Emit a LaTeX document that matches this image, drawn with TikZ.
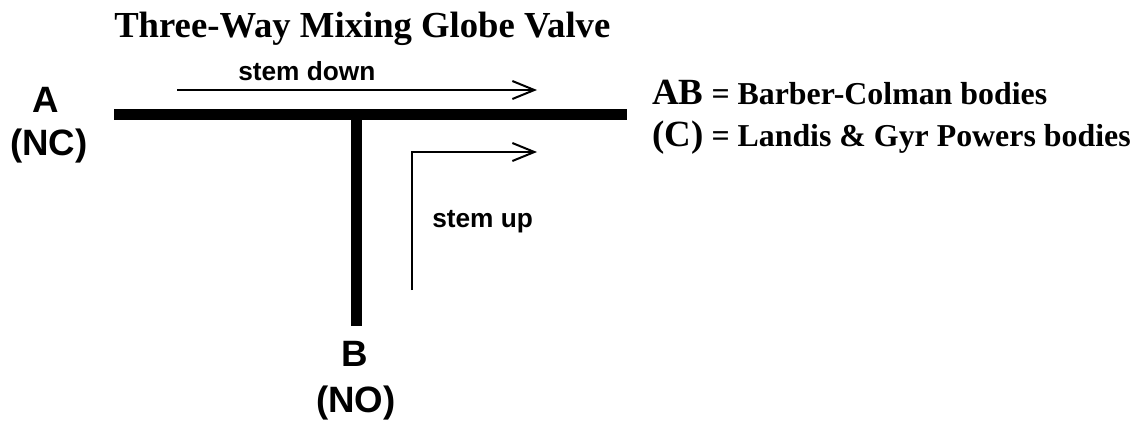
\documentclass[tikz,border=0pt]{standalone}
\usepackage{fontspec}
\setmainfont{Liberation Serif}
\setsansfont{Liberation Sans}
\usetikzlibrary{arrows.meta}
\tikzset{
    pipe/.style={line width=8.25pt, line cap=butt},
    flow/.style={line width=1.5pt, -{Straight Barb[length=16.5pt, width=13.5pt]}},
    title/.style={font=\bfseries\fontsize{27.5}{33}\selectfont, anchor=base west, inner sep=0pt},
    portlabel/.style={font=\sffamily\bfseries\fontsize{27.5}{32}\selectfont, anchor=base, inner sep=0pt},
    flowlabel/.style={font=\sffamily\bfseries\fontsize{19.7}{24}\selectfont, anchor=base west, inner sep=0pt},
    legend/.style={font=\bfseries\fontsize{23.9}{28}\selectfont, anchor=base west, inner sep=0pt},
}
\newcommand{\legendkey}[1]{{\fontsize{27.7}{32}\selectfont #1}}

\begin{document}
\begin{tikzpicture}[x=0.75pt, y=-0.75pt]
        \useasboundingbox (0,0) rectangle (1137,422);

        % Pipe ends
        \coordinate (pipeA) at (114,114.5);
        \coordinate (pipeC) at (627,114.5);
        \coordinate (tee) at (356.5,114.5);
        \coordinate (pipeB) at (356.5,326);

        % Flow arrow ends
        \coordinate (downstart) at (177,90);
        \coordinate (downend) at (537,90);
        \coordinate (upstart) at (412,290);
        \coordinate (upend) at (537,152);

        % Nodes
        \node[title] (title) at (114,37) {Three-Way Mixing Globe Valve};
        \node[flowlabel] (downlabel) at (238,80) {stem down};
        \node[flowlabel] (uplabel) at (432,227) {stem up};

        \node[portlabel] (labelA) at (46,112) {A};
        \node[portlabel] (labelNC) at (49,155) {(NC)};
        \node[portlabel] (labelB) at (355,366) {B};
        \node[portlabel] (labelNO) at (356,412) {(NO)};

        \node[legend] (keyAB) at (652,104) {\legendkey{AB} = Barber-Colman bodies};
        \node[legend] (keyC) at (652,146) {\legendkey{(C)} = Landis \& Gyr Powers bodies};

        % Valve body
        \draw[pipe] (pipeA) -- (pipeC);
        \draw[pipe] (tee) -- (pipeB);

        % Connections
        \draw[flow] (downstart) -- (downend);
        \draw[flow] (upstart) |- (upend);
\end{tikzpicture}
\end{document}
